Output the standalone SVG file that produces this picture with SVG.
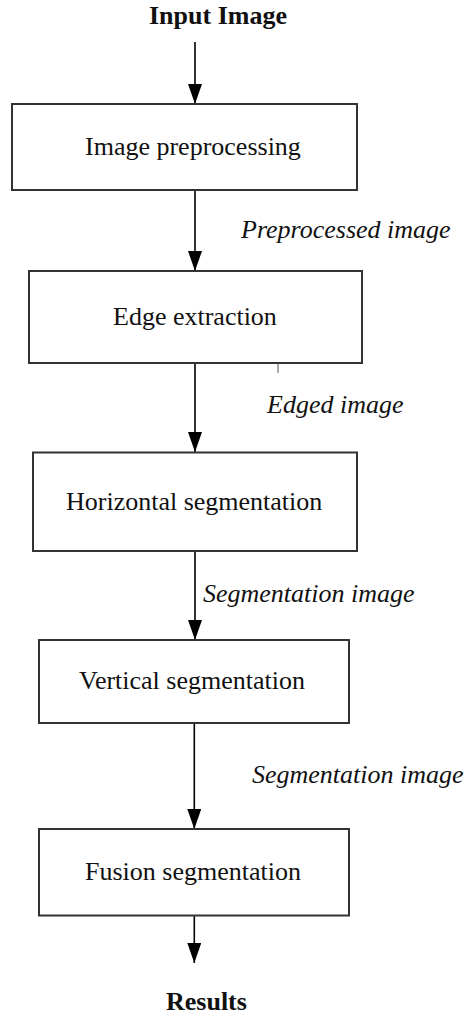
<svg xmlns="http://www.w3.org/2000/svg" width="465" height="1018" viewBox="0 0 465 1018">
<defs>
<marker id="ah" markerUnits="userSpaceOnUse" markerWidth="20" markerHeight="14" refX="20" refY="7" orient="auto">
<path d="M0,0 L20,7 L0,14 z" fill="#000"/>
</marker>
<style>
.box{fill:#fff;stroke:#333;stroke-width:2}
.t{font-family:"Liberation Serif","Times New Roman",serif;font-size:26px;fill:#111}
.b{font-weight:bold}
.i{font-style:italic}
.c{stroke:#000;stroke-width:1.6;fill:none;marker-end:url(#ah)}
</style>
</defs>
<rect width="465" height="1018" fill="#fff"/>
<g id="labels">
<text class="t b" x="149" y="24">Input Image</text>
<text class="t b" x="166" y="1010">Results</text>
<text class="t i" x="241" y="238">Preprocessed image</text>
<text class="t i" x="267" y="413">Edged image</text>
<text class="t i" x="203" y="602">Segmentation image</text>
<text class="t i" x="252" y="783">Segmentation image</text>
</g>
<g id="connectors">
<line class="c" x1="195" y1="42" x2="195" y2="104"/>
<line class="c" x1="195" y1="190" x2="195" y2="271"/>
<line class="c" x1="195" y1="363" x2="195" y2="452"/>
<line class="c" x1="195" y1="551" x2="195" y2="640"/>
<line class="c" x1="194.3" y1="723" x2="194.3" y2="829"/>
<line class="c" x1="194.3" y1="915" x2="194.3" y2="963"/>
<line x1="278" y1="363" x2="278" y2="373" stroke="#555" stroke-width="1"/>
</g>
<g id="n1"><rect class="box" x="12" y="104" width="345" height="86"/><text class="t" x="85" y="155">Image preprocessing</text></g>
<g id="n2"><rect class="box" x="29" y="271" width="333" height="92"/><text class="t" x="113" y="325">Edge extraction</text></g>
<g id="n3"><rect class="box" x="33" y="452.5" width="324" height="98.5"/><text class="t" x="66" y="510">Horizontal segmentation</text></g>
<g id="n4"><rect class="box" x="39" y="640" width="310" height="83"/><text class="t" x="79" y="689">Vertical segmentation</text></g>
<g id="n5"><rect class="box" x="39" y="829" width="310" height="86.5"/><text class="t" x="85" y="880">Fusion segmentation</text></g>
</svg>
